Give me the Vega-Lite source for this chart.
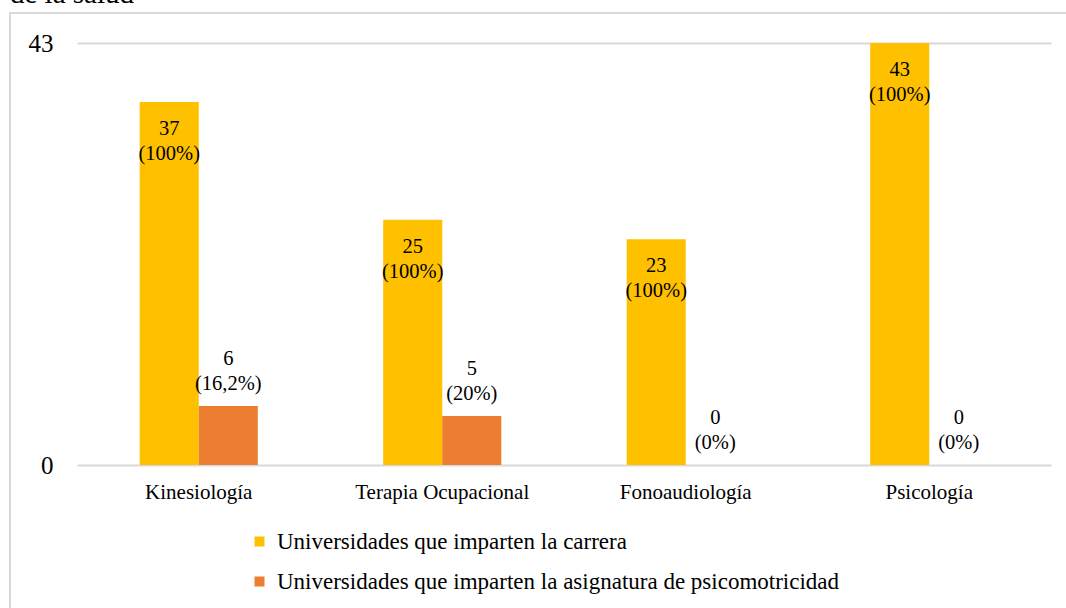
{
  "$schema": "https://vega.github.io/schema/vega-lite/v6.json",
  "autosize": {"type": "none"},
  "padding": {"left": 10, "top": 13, "right": 0, "bottom": 0},
  "width": 1060,
  "height": 600,
  "title": {"text": "de la salud", "anchor": "start", "font": "Liberation Serif", "fontSize": 29, "fontWeight": "normal", "color": "#000000", "offset": 0, "dy": 19, "baseline": "alphabetic"},
  "config": {"view": {"stroke": "#d9d9d9", "strokeWidth": 2}, "font": "Liberation Serif"},
  "data": {"values": [
    {"carrera": "Kinesiología", "serie": "Universidades que imparten la carrera", "valor": 37, "etiqueta": "37\n(100%)"},
    {"carrera": "Kinesiología", "serie": "Universidades que imparten la asignatura de psicomotricidad", "valor": 6, "etiqueta": "6\n(16,2%)"},
    {"carrera": "Terapia Ocupacional", "serie": "Universidades que imparten la carrera", "valor": 25, "etiqueta": "25\n(100%)"},
    {"carrera": "Terapia Ocupacional", "serie": "Universidades que imparten la asignatura de psicomotricidad", "valor": 5, "etiqueta": "5\n(20%)"},
    {"carrera": "Fonoaudiología", "serie": "Universidades que imparten la carrera", "valor": 23, "etiqueta": "23\n(100%)"},
    {"carrera": "Fonoaudiología", "serie": "Universidades que imparten la asignatura de psicomotricidad", "valor": 0, "etiqueta": "0\n(0%)"},
    {"carrera": "Psicología", "serie": "Universidades que imparten la carrera", "valor": 43, "etiqueta": "43\n(100%)"},
    {"carrera": "Psicología", "serie": "Universidades que imparten la asignatura de psicomotricidad", "valor": 0, "etiqueta": "0\n(0%)"}
  ]},
  "resolve": {"scale": {"x": "shared"}, "axis": {"x": "independent"}},
  "layer": [
    {
      "mark": {"type": "bar", "strokeWidth": 0},
      "encoding": {
        "x": {"field": "carrera", "type": "nominal", "sort": ["Kinesiología", "Terapia Ocupacional", "Fonoaudiología", "Psicología"],
              "scale": {"range": [67, 1041], "paddingInner": 0.515, "paddingOuter": 0.2575},
              "axis": {"orient": "bottom", "offset": -148, "domainColor": "#d9d9d9", "domainWidth": 2, "ticks": false, "labelFontSize": 21, "labelPadding": 16, "labelAngle": 0, "labelColor": "#000000", "title": null, "labelFont": "Liberation Serif"}},
        "xOffset": {"field": "serie", "type": "nominal", "scale": {"domain": ["Universidades que imparten la carrera", "Universidades que imparten la asignatura de psicomotricidad"], "paddingInner": 0, "paddingOuter": 0}},
        "y": {"field": "valor", "type": "quantitative",
              "scale": {"domain": [0, 43], "range": [452, 30], "nice": false, "zero": true},
              "axis": {"orient": "left", "offset": -67, "domain": false, "ticks": false, "grid": false, "values": [0, 43], "labelFontSize": 25, "labelPadding": 24, "labelColor": "#000000", "title": null, "labelFont": "Liberation Serif"}},
        "color": {"field": "serie", "type": "nominal",
                  "scale": {"domain": ["Universidades que imparten la carrera", "Universidades que imparten la asignatura de psicomotricidad"], "range": ["#FFC000", "#ED7D31"]},
                  "legend": {"orient": "none", "legendX": 238, "legendY": 517, "direction": "vertical", "title": null, "symbolType": "square", "symbolSize": 100, "symbolStrokeWidth": 0, "labelFontSize": 23, "labelFont": "Liberation Serif", "labelColor": "#000000", "rowPadding": 16, "labelOffset": 6, "padding": 0, "labelLimit": 800}}
      }
    },
    {
      "transform": [{"filter": "datum.serie === 'Universidades que imparten la carrera'"}],
      "mark": {"type": "text", "baseline": "top", "align": "center", "dy": 17, "fontSize": 20.5, "lineBreak": "\n", "lineHeight": 25, "color": "#000000", "font": "Liberation Serif"},
      "encoding": {
        "x": {"field": "carrera", "type": "nominal", "sort": ["Kinesiología", "Terapia Ocupacional", "Fonoaudiología", "Psicología"],
              "axis": {"orient": "top", "offset": -30, "domainColor": "#d9d9d9", "domainWidth": 2, "ticks": false, "labels": false, "title": null}},
        "xOffset": {"field": "serie", "type": "nominal"},
        "y": {"field": "valor", "type": "quantitative"},
        "text": {"field": "etiqueta"}
      }
    },
    {
      "transform": [{"filter": "datum.serie !== 'Universidades que imparten la carrera'"}],
      "mark": {"type": "text", "baseline": "bottom", "align": "center", "dy": -37, "fontSize": 20.5, "lineBreak": "\n", "lineHeight": 25, "color": "#000000", "font": "Liberation Serif"},
      "encoding": {
        "x": {"field": "carrera", "type": "nominal", "sort": ["Kinesiología", "Terapia Ocupacional", "Fonoaudiología", "Psicología"], "axis": null},
        "xOffset": {"field": "serie", "type": "nominal"},
        "y": {"field": "valor", "type": "quantitative"},
        "text": {"field": "etiqueta"}
      }
    }
  ]
}
